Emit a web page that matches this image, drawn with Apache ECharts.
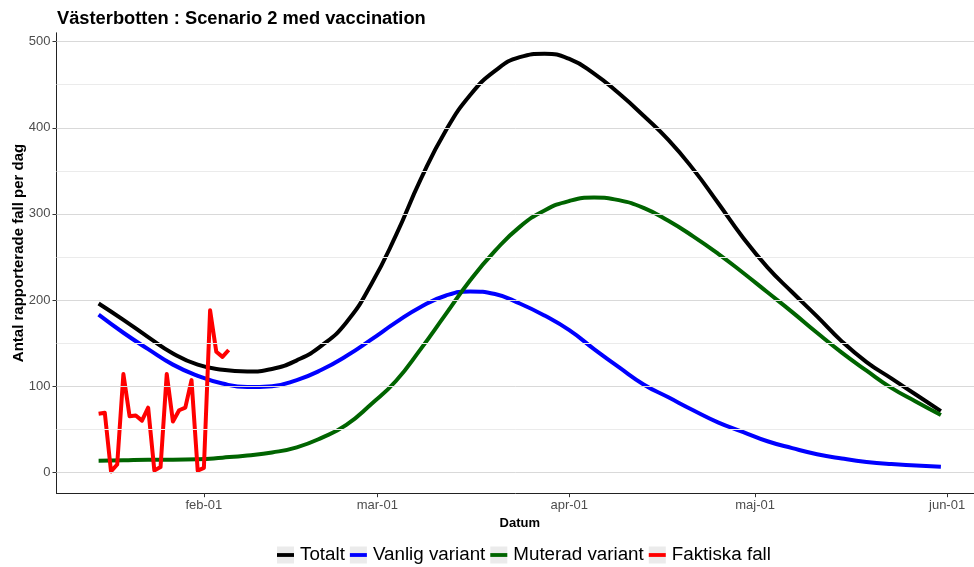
<!DOCTYPE html>
<html>
<head>
<meta charset="utf-8">
<script src="https://cdn.jsdelivr.net/npm/echarts@6/dist/echarts.min.js"></script>
<style>
  html, body { margin: 0; padding: 0; background: #ffffff; }
  #chart { width: 974px; height: 567px; }
</style>
</head>
<body>
<div id="chart"></div>
<script>
// Modelled daily cases (sampled every 4 days), Jan 15 – May 31 2021
const modelDates = [
  '2021-01-15','2021-01-19','2021-01-23','2021-01-27','2021-01-31',
  '2021-02-04','2021-02-08','2021-02-12','2021-02-16','2021-02-20',
  '2021-02-24','2021-02-28','2021-03-04','2021-03-08','2021-03-12',
  '2021-03-16','2021-03-20','2021-03-24','2021-03-28','2021-04-01',
  '2021-04-05','2021-04-09','2021-04-13','2021-04-17','2021-04-21',
  '2021-04-25','2021-04-29','2021-05-03','2021-05-07','2021-05-11',
  '2021-05-15','2021-05-19','2021-05-23','2021-05-27','2021-05-31'
];
const totalt = [
  196, 177, 157, 138, 125, 119, 117, 120, 130, 147,
  174, 218, 275, 340, 396, 438, 466, 482, 486, 480,
  463, 440, 414, 386, 352, 313, 273, 238, 209, 181,
  152, 128, 109, 90, 71
];
const vanlig = [
  183, 162, 143, 125, 112, 103, 99, 100, 107, 119,
  135, 154, 174, 192, 205, 210, 207, 196, 182, 165,
  143, 122, 102, 87, 72, 58, 47, 36, 28, 21,
  16, 12, 9.5, 8, 6.5
];
const muterad = [
  13.5, 14, 14.5, 14.5, 15, 17, 19.5, 23, 29, 40,
  55, 79, 106, 143, 183, 223, 257, 285, 304, 315,
  319, 316, 307, 292, 274, 254, 232, 209, 186, 162,
  139, 118, 98, 82, 66.5
];

// Reported cases per day
const caseDates = [
  '2021-01-15','2021-01-16','2021-01-17','2021-01-18','2021-01-19','2021-01-20',
  '2021-01-21','2021-01-22','2021-01-23','2021-01-24','2021-01-25','2021-01-26',
  '2021-01-27','2021-01-28','2021-01-29','2021-01-30','2021-01-31','2021-02-01',
  '2021-02-02','2021-02-03','2021-02-04','2021-02-05'
];
const faktiska = [
  68, 69, 1, 9, 114, 65, 66, 60, 75, 2, 6,
  114, 59, 72, 75, 107, 2, 5, 188, 140, 134, 142
];

// x-axis ticks
const tickDates = ['2021-02-01','2021-03-01','2021-04-01','2021-05-01','2021-06-01'];
const tickLabels = ['feb-01','mar-01','apr-01','maj-01','jun-01'];

// y-axis ticks and grid
const yTicks = [0, 100, 200, 300, 400, 500];
const yMinorGrid = [50, 150, 250, 350, 450];

const seriesNames = ['Totalt', 'Vanlig variant', 'Muterad variant', 'Faktiska fall'];
const seriesColors = ['#000000', '#0000ff', '#006400', '#ff0000'];

const ts = s => Date.parse(s + 'T00:00:00Z');
const pairs = (dates, vals) => dates.map((d, i) => [ts(d), vals[i]]);
const tickTs = tickDates.map(ts);

// 5% padding on each side of the data range
const xFirst = ts(modelDates[0]);
const xLast = ts(modelDates[modelDates.length - 1]);
const xPad = (xLast - xFirst) * 0.05;

const FONT = '"Liberation Sans", Arial, sans-serif';

const chart = echarts.init(document.getElementById('chart'));

const lineSeries = (name, data, color, smooth) => ({
  name, type: 'line', data,
  showSymbol: false, symbol: 'none',
  smooth: smooth ? 0.5 : false,
  lineStyle: { color, width: 4, join: 'round', cap: 'butt' },
  itemStyle: { color },
  emphasis: { disabled: true },
  z: 3
});

const legendBase = {
  orient: 'horizontal',
  left: 277,
  top: 544,
  padding: 0,
  itemWidth: 17,
  itemHeight: 17,
  itemGap: 5,
  data: seriesNames,
  textStyle: { fontFamily: FONT, fontSize: 18.8, lineHeight: 22, padding: [0, 0, 0, 1] }
};

chart.setOption({
  animation: false,
  backgroundColor: '#ffffff',
  title: {
    text: 'Västerbotten : Scenario 2 med vaccination',
    left: 52,
    top: 5,
    textStyle: { fontFamily: FONT, fontSize: 18.3, fontWeight: 'bold', color: '#000000' }
  },
  legend: [
    // grey key backgrounds
    Object.assign({}, legendBase, {
      selectedMode: false,
      icon: 'rect',
      itemStyle: { color: '#ebebeb', borderWidth: 0 },
      textStyle: Object.assign({}, legendBase.textStyle, { color: 'rgba(0,0,0,0)' })
    }),
    // coloured key lines with labels
    Object.assign({}, legendBase, {
      icon: 'path://M0,0h20v4.5h-20z',
      itemHeight: 4.5,
      textStyle: Object.assign({}, legendBase.textStyle, { color: '#000000' })
    })
  ],
  grid: { left: 56.5, right: -9, top: 32.8, bottom: 73.8, containLabel: false, outerBoundsMode: 'none' },
  xAxis: {
    type: 'value',
    min: xFirst - xPad,
    max: xLast + xPad,
    name: 'Datum',
    nameLocation: 'middle',
    nameGap: 24,
    nameMoveOverlap: false,
    nameTextStyle: { fontFamily: FONT, fontSize: 13, fontWeight: 'bold', color: '#000000' },
    axisLine: { show: true, onZero: false, lineStyle: { color: '#222222', width: 1 } },
    axisTick: { show: true, length: 4, lineStyle: { color: '#333333' }, customValues: tickTs },
    axisLabel: {
      customValues: tickTs,
      margin: 6,
      fontFamily: FONT, fontSize: 13, color: '#4d4d4d',
      formatter: v => { const i = tickTs.indexOf(v); return i >= 0 ? tickLabels[i] : ''; }
    },
    splitLine: { show: false }
  },
  yAxis: {
    type: 'value',
    min: -24.3,
    max: 510.3,
    name: 'Antal rapporterade fall per dag',
    nameLocation: 'middle',
    nameGap: 30,
    nameMoveOverlap: false,
    nameTextStyle: { fontFamily: FONT, fontSize: 15, fontWeight: 'bold', color: '#000000', padding: [0, 0, 0, 20] },
    axisLine: { show: true, onZero: false, lineStyle: { color: '#222222', width: 1 } },
    axisTick: { show: true, length: 4, lineStyle: { color: '#333333' }, customValues: yTicks },
    axisLabel: {
      customValues: yTicks,
      margin: 6,
      fontFamily: FONT, fontSize: 13, color: '#4d4d4d'
    },
    splitLine: { show: false }
  },
  series: [
    {
      // horizontal grid lines
      type: 'line', data: [], silent: true, z: 1,
      markLine: {
        silent: true, symbol: 'none', label: { show: false },
        animation: false,
        data: yTicks.map(v => ({ yAxis: v, lineStyle: { color: '#d9d9d9', width: 1, type: 'solid' } }))
          .concat(yMinorGrid.map(v => ({ yAxis: v, lineStyle: { color: '#ebebeb', width: 1, type: 'solid' } })))
      }
    },
    lineSeries(seriesNames[0], pairs(modelDates, totalt), seriesColors[0], true),
    lineSeries(seriesNames[1], pairs(modelDates, vanlig), seriesColors[1], true),
    lineSeries(seriesNames[2], pairs(modelDates, muterad), seriesColors[2], true),
    lineSeries(seriesNames[3], pairs(caseDates, faktiska), seriesColors[3], false)
  ]
});
</script>
</body>
</html>
